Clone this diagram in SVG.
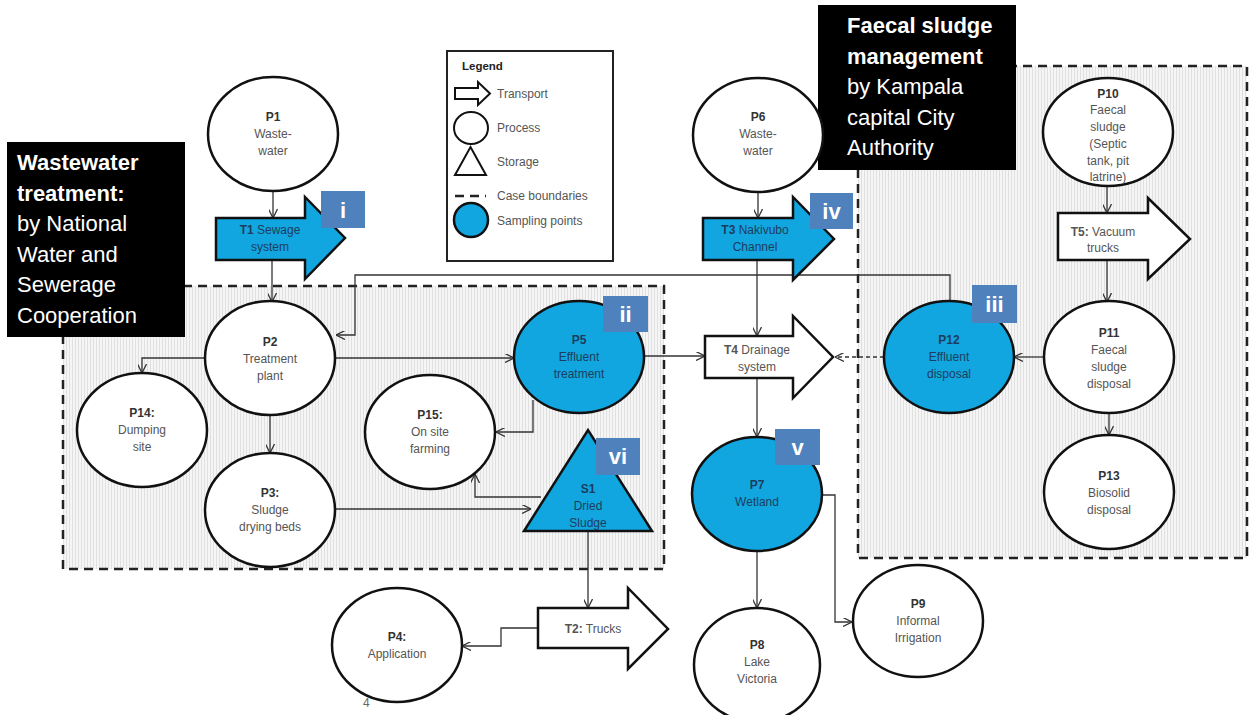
<svg xmlns="http://www.w3.org/2000/svg" width="1249" height="715" viewBox="0 0 1249 715">
<style>
.node{fill:#fff;stroke:#111;stroke-width:2.5}
.samp{fill:#12a6e0;stroke:#111;stroke-width:2.5}
.tr{fill:#fff;stroke:#111;stroke-width:2.5;stroke-linejoin:miter}
.trb{fill:#12a6e0;stroke:#111;stroke-width:2.5}
.t{font-family:"Liberation Sans",Arial,sans-serif;font-size:12px;fill:#555;text-anchor:middle}
.tb{font-family:"Liberation Sans",Arial,sans-serif;font-size:12px;fill:#333;text-anchor:middle;font-weight:bold}
.ts{fill:#1c3d5e}
.b{font-weight:bold}
.badge{fill:#4f81bd}
.bt{font-family:"Liberation Sans",Arial,sans-serif;font-size:22px;font-weight:bold;fill:#fff;text-anchor:middle}
.big{font-family:"Liberation Sans",Arial,sans-serif;font-size:22px;fill:#fff}
.case{stroke:#222;stroke-width:2.5;stroke-dasharray:9,6;fill:url(#hatch)}
.c{fill:none;stroke:#333;stroke-width:1.3;marker-end:url(#ah)}
.lg{font-family:"Liberation Sans",Arial,sans-serif;font-size:12px;fill:#555}
</style>
<defs>
<pattern id="hatch" width="3" height="3" patternUnits="userSpaceOnUse">
<rect width="3" height="3" fill="#f5f5f5"/>
<line x1="0.5" y1="0" x2="0.5" y2="3" stroke="#e0e0e0" stroke-width="1"/>
</pattern>
<marker id="ah" viewBox="0 0 10 10" refX="10" refY="5" markerWidth="9" markerHeight="9" markerUnits="userSpaceOnUse" orient="auto">
<path d="M0,0 L10,5 L0,10" fill="none" stroke="#333" stroke-width="1.4"/>
</marker>
</defs>
<rect width="1249" height="715" fill="#fff"/>

<g id="case-wastewater">
<rect class="case" x="63" y="286" width="601" height="283"/>
</g>
<g id="case-faecal">
<rect class="case" x="858" y="66" width="389" height="492"/>
</g>

<g id="title-wastewater">
<rect x="7" y="142" width="178" height="195" fill="#000"/>
<text class="big" x="17" y="170"><tspan class="b">Wastewater</tspan><tspan x="17" dy="30.5" class="b">treatment:</tspan><tspan x="17" dy="30.5">by National</tspan><tspan x="17" dy="30.5">Water and</tspan><tspan x="17" dy="30.5">Sewerage</tspan><tspan x="17" dy="30.5">Cooperation</tspan></text>
</g>
<g id="title-faecal">
<rect x="818" y="5" width="198" height="165" fill="#000"/>
<text class="big" x="847" y="33"><tspan class="b">Faecal sludge</tspan><tspan x="847" dy="30.5" class="b">management</tspan><tspan x="847" dy="30.5">by Kampala</tspan><tspan x="847" dy="30.5">capital City</tspan><tspan x="847" dy="30.5">Authority</tspan></text>
</g>

<g id="legend">
<rect x="447" y="51" width="166" height="210" fill="#fff" stroke="#222" stroke-width="2"/>
<text class="lg b" x="462" y="70" style="font-size:11.5px;fill:#222">Legend</text>
<polygon points="455,88 478,88 478,82 490,93.5 478,105 478,99 455,99" fill="#fff" stroke="#111" stroke-width="2"/>
<text class="lg" x="497" y="98">Transport</text>
<ellipse cx="471" cy="128" rx="17" ry="16" fill="#fff" stroke="#111" stroke-width="2"/>
<text class="lg" x="497" y="132">Process</text>
<polygon points="455,175 486,175 470.5,147" fill="#fff" stroke="#111" stroke-width="2"/>
<text class="lg" x="497" y="166">Storage</text>
<line x1="455" y1="196" x2="486" y2="196" stroke="#222" stroke-width="2.5" stroke-dasharray="9,6"/>
<text class="lg" x="497" y="200">Case boundaries</text>
<ellipse cx="471" cy="220" rx="17" ry="17" class="samp" stroke-width="2"/>
<text class="lg" x="497" y="225">Sampling points</text>
</g>

<g id="connectors">
<path class="c" d="M273,191 V218"/>
<path class="c" d="M272,260 V302"/>
<path class="c" d="M950,301 V275 H355 V335 H336"/>
<path class="c" d="M206,358 H142 V373"/>
<path class="c" d="M270,415 V453"/>
<path class="c" d="M335,358 H514"/>
<path class="c" d="M533,400 V432 H496"/>
<path class="c" d="M335,509 H531"/>
<path class="c" d="M541,497 H475 V474"/>
<path class="c" d="M588,531 V608"/>
<path class="c" d="M538,628 H501 V646 H462"/>
<path class="c" d="M643,356 H705"/>
<path class="c" d="M758,192 V218"/>
<path class="c" d="M757,260 V336"/>
<path class="c" d="M757,378 V437"/>
<path class="c" d="M757,551 V608"/>
<path class="c" d="M822,495 H835 V622 H852"/>
<path class="c" d="M884,357 H835" stroke-dasharray="4,3"/>
<path class="c" d="M1107,186 V213"/>
<path class="c" d="M1107,260 V302"/>
<path class="c" d="M1044,357 H1014"/>
<path class="c" d="M1109,413 V435"/>
</g>

<g id="P1"><ellipse class="node" cx="273" cy="134" rx="65" ry="57"/>
<text class="tb" x="273" y="121">P1</text><text class="t" x="273" y="138">Waste-</text><text class="t" x="273" y="155">water</text></g>

<g id="T1"><polygon class="trb" points="216,218 305,218 305,197 345,238 305,279 305,260 216,260"/>
<text class="t ts" x="270" y="234"><tspan class="b">T1</tspan> Sewage</text><text class="t ts" x="270" y="251">system</text>
<rect class="badge" x="321" y="191" width="44" height="37"/><text class="bt" x="343" y="218">i</text></g>

<g id="P6"><ellipse class="node" cx="758" cy="135" rx="65" ry="57"/>
<text class="tb" x="758" y="121">P6</text><text class="t" x="758" y="138">Waste-</text><text class="t" x="758" y="155">water</text></g>

<g id="T3"><polygon class="trb" points="703,218 793,218 793,197 834,239 793,280 793,260 703,260"/>
<text class="t ts" x="755" y="234"><tspan class="b">T3</tspan> Nakivubo</text><text class="t ts" x="755" y="251">Channel</text>
<rect class="badge" x="810" y="193" width="43" height="36"/><text class="bt" x="831.5" y="219">iv</text></g>

<g id="P10"><ellipse class="node" cx="1108" cy="132" rx="65" ry="54"/>
<text class="tb" x="1108" y="98">P10</text><text class="t" x="1108" y="114">Faecal</text><text class="t" x="1108" y="131">sludge</text><text class="t" x="1108" y="148">(Septic</text><text class="t" x="1108" y="165">tank, pit</text><text class="t" x="1108" y="181">latrine)</text></g>

<g id="T5"><polygon class="tr" points="1058,213 1148,213 1148,198 1190,239 1148,279 1148,260 1058,260"/>
<text class="t" x="1103" y="236"><tspan class="b">T5:</tspan> Vacuum</text><text class="t" x="1103" y="252">trucks</text></g>

<g id="P2"><ellipse class="node" cx="270" cy="358" rx="65" ry="57"/>
<text class="tb" x="270" y="346">P2</text><text class="t" x="270" y="363">Treatment</text><text class="t" x="270" y="380">plant</text></g>

<g id="P14"><ellipse class="node" cx="142" cy="430" rx="65" ry="57"/>
<text class="tb" x="142" y="417">P14:</text><text class="t" x="142" y="434">Dumping</text><text class="t" x="142" y="451">site</text></g>

<g id="P3"><ellipse class="node" cx="270" cy="510" rx="65" ry="57"/>
<text class="tb" x="270" y="497">P3:</text><text class="t" x="270" y="514">Sludge</text><text class="t" x="270" y="531">drying beds</text></g>

<g id="P15"><ellipse class="node" cx="430" cy="432" rx="65" ry="57"/>
<text class="tb" x="430" y="419">P15:</text><text class="t" x="430" y="436">On site</text><text class="t" x="430" y="453">farming</text></g>

<g id="P5"><ellipse class="samp" cx="579" cy="357" rx="65" ry="56"/>
<text class="tb ts" x="579" y="344">P5</text><text class="t ts" x="579" y="361">Effluent</text><text class="t ts" x="579" y="378">treatment</text>
<rect class="badge" x="603" y="296" width="45" height="36"/><text class="bt" x="625.5" y="322">ii</text></g>

<g id="S1"><polygon class="samp" points="524,531 652,531 588,430"/>
<text class="tb ts" x="588" y="493">S1</text><text class="t ts" x="588" y="510">Dried</text><text class="t ts" x="588" y="527">Sludge</text>
<rect class="badge" x="596" y="438" width="44" height="37"/><text class="bt" x="618" y="464">vi</text></g>

<g id="T4"><polygon class="tr" points="705,336 793,336 793,316 833,357 793,398 793,378 705,378"/>
<text class="t" x="757" y="354"><tspan class="b">T4</tspan> Drainage</text><text class="t" x="757" y="371">system</text></g>

<g id="P7"><ellipse class="samp" cx="757" cy="494" rx="65" ry="57"/>
<text class="tb ts" x="757" y="489">P7</text><text class="t ts" x="757" y="506">Wetland</text>
<rect class="badge" x="775" y="429" width="45" height="36"/><text class="bt" x="797.5" y="455">v</text></g>

<g id="P12"><ellipse class="samp" cx="949" cy="357" rx="65" ry="56"/>
<text class="tb ts" x="949" y="344">P12</text><text class="t ts" x="949" y="361">Effluent</text><text class="t ts" x="949" y="378">disposal</text>
<rect class="badge" x="972" y="285" width="45" height="38"/><text class="bt" x="994.5" y="312">iii</text></g>

<g id="P11"><ellipse class="node" cx="1109" cy="357" rx="65" ry="56"/>
<text class="tb" x="1109" y="337">P11</text><text class="t" x="1109" y="354">Faecal</text><text class="t" x="1109" y="371">sludge</text><text class="t" x="1109" y="388">disposal</text></g>

<g id="P13"><ellipse class="node" cx="1109" cy="492" rx="65" ry="57"/>
<text class="tb" x="1109" y="480">P13</text><text class="t" x="1109" y="497">Biosolid</text><text class="t" x="1109" y="514">disposal</text></g>

<g id="T2"><polygon class="tr" points="538,608 628,608 628,588 668,629 628,669 628,648 538,648"/>
<text class="t" x="593" y="633"><tspan class="b">T2:</tspan> Trucks</text></g>

<g id="P4"><ellipse class="node" cx="397" cy="645" rx="65" ry="57"/>
<text class="tb" x="397" y="641">P4:</text><text class="t" x="397" y="658">Application</text></g>

<g id="P8"><ellipse class="node" cx="757" cy="665" rx="63" ry="57"/>
<text class="tb" x="757" y="649">P8</text><text class="t" x="757" y="666">Lake</text><text class="t" x="757" y="683">Victoria</text></g>

<g id="P9"><ellipse class="node" cx="918" cy="621" rx="65" ry="56"/>
<text class="tb" x="918" y="608">P9</text><text class="t" x="918" y="625">Informal</text><text class="t" x="918" y="642">Irrigation</text></g>

<text x="363" y="707" style="font-family:'Liberation Sans',Arial,sans-serif;font-size:12px;fill:#666">4</text>
</svg>
